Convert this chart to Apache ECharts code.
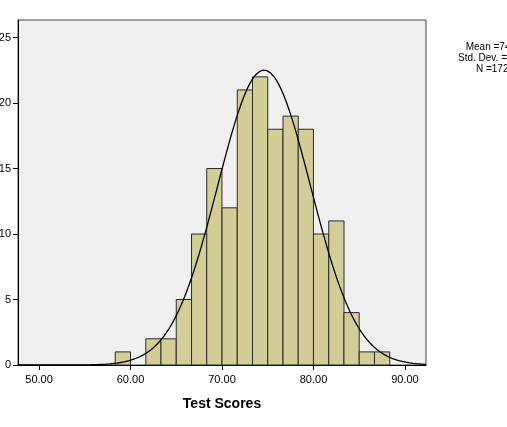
<!DOCTYPE html>
<html>
<head>
<meta charset="UTF-8">
<title>Test Scores</title>
<script src="https://cdn.jsdelivr.net/npm/echarts@6/dist/echarts.min.js"></script>
<style>
html, body { margin: 0; padding: 0; background: #fff; }
#main { width: 507px; height: 427px; }
</style>
</head>
<body>
<div id="main"></div>
<script>
// histogram bins (left edge of each bin) and the counts in them
var binStarts = [58.33, 60.00, 61.67, 63.33, 65.00, 66.67, 68.33, 70.00, 71.67,
                 73.33, 75.00, 76.67, 78.33, 80.00, 81.67, 83.33, 85.00, 86.67];
var binCounts = [1, 0, 2, 2, 5, 10, 15, 12, 21, 22, 18, 19, 18, 10, 11, 4, 1, 1];
var binWidth = 1.667;
var xTicks = [50, 60, 70, 80, 90];
var yTicks = [0, 5, 10, 15, 20, 25];
// fitted normal curve parameters (shown in the side note)
var meanScore = 74.6;
var sdScore = 5.08;
var nScores = 172;

var xMin = 47.7, xMax = 92.3;

var bars = [];
for (var i = 0; i < binStarts.length; i++) {
  bars.push([binStarts[i], binStarts[i] + binWidth, binCounts[i]]);
}

var curve = [];
for (var x = xMin; x <= xMax + 0.001; x += 0.2) {
  var z = (x - meanScore) / sdScore;
  curve.push([x, nScores * binWidth / (sdScore * Math.sqrt(2 * Math.PI)) * Math.exp(-0.5 * z * z)]);
}

var chartDom = document.getElementById('main');
var myChart = echarts.init(chartDom);

var font = 'Arial, "Liberation Sans", sans-serif';

var option = {
  animation: false,
  grid: {
    left: 18, right: 81, top: 20, bottom: 62,
    outerBoundsMode: 'none',
    containLabel: false,
    show: true,
    backgroundColor: '#F0F0F0',
    borderColor: '#444',
    borderWidth: 1
  },
  xAxis: {
    type: 'value',
    min: xMin,
    max: xMax,
    name: 'Test Scores',
    nameLocation: 'middle',
    nameGap: 32,
    nameTextStyle: { fontFamily: font, fontSize: 14, fontWeight: 'bold', color: '#000' },
    axisLine: { show: true, lineStyle: { color: '#000', width: 1 } },
    axisTick: { show: true, length: 5, customValues: xTicks, lineStyle: { color: '#000' } },
    axisLabel: {
      customValues: xTicks,
      margin: 9,
      fontFamily: font, fontSize: 11, color: '#000',
      formatter: function (v) { return v.toFixed(2); }
    },
    splitLine: { show: false }
  },
  yAxis: {
    type: 'value',
    min: 0,
    max: 26.34,
    axisLine: { show: true, lineStyle: { color: '#000', width: 1 } },
    axisTick: { show: true, length: 5, customValues: yTicks, lineStyle: { color: '#000' } },
    axisLabel: { customValues: yTicks, margin: 7, fontFamily: font, fontSize: 11, color: '#000' },
    splitLine: { show: false }
  },
  graphic: [{
    type: 'text',
    left: 458,
    top: 42,
    style: {
      text: 'Mean =74.6\nStd. Dev. =5.08\nN =172',
      x: 35,
      textAlign: 'center',
      fontFamily: font,
      fontSize: 10,
      lineHeight: 11,
      fill: '#000'
    }
  }],
  series: [
    {
      type: 'custom',
      data: bars,
      encode: { x: [0, 1], y: 2 },
      renderItem: function (params, api) {
        if (api.value(2) <= 0) return null;
        var p0 = api.coord([api.value(0), api.value(2)]);
        var p1 = api.coord([api.value(1), 0]);
        return {
          type: 'rect',
          shape: { x: p0[0], y: p0[1], width: p1[0] - p0[0], height: p1[1] - p0[1] },
          style: { fill: '#D3CE97', stroke: '#2b2b2b', lineWidth: 1 }
        };
      },
      z: 2
    },
    {
      type: 'line',
      data: curve,
      showSymbol: false,
      symbol: 'none',
      clip: true,
      lineStyle: { color: '#000', width: 1.3 },
      z: 3
    }
  ]
};

myChart.setOption(option);
</script>
</body>
</html>
